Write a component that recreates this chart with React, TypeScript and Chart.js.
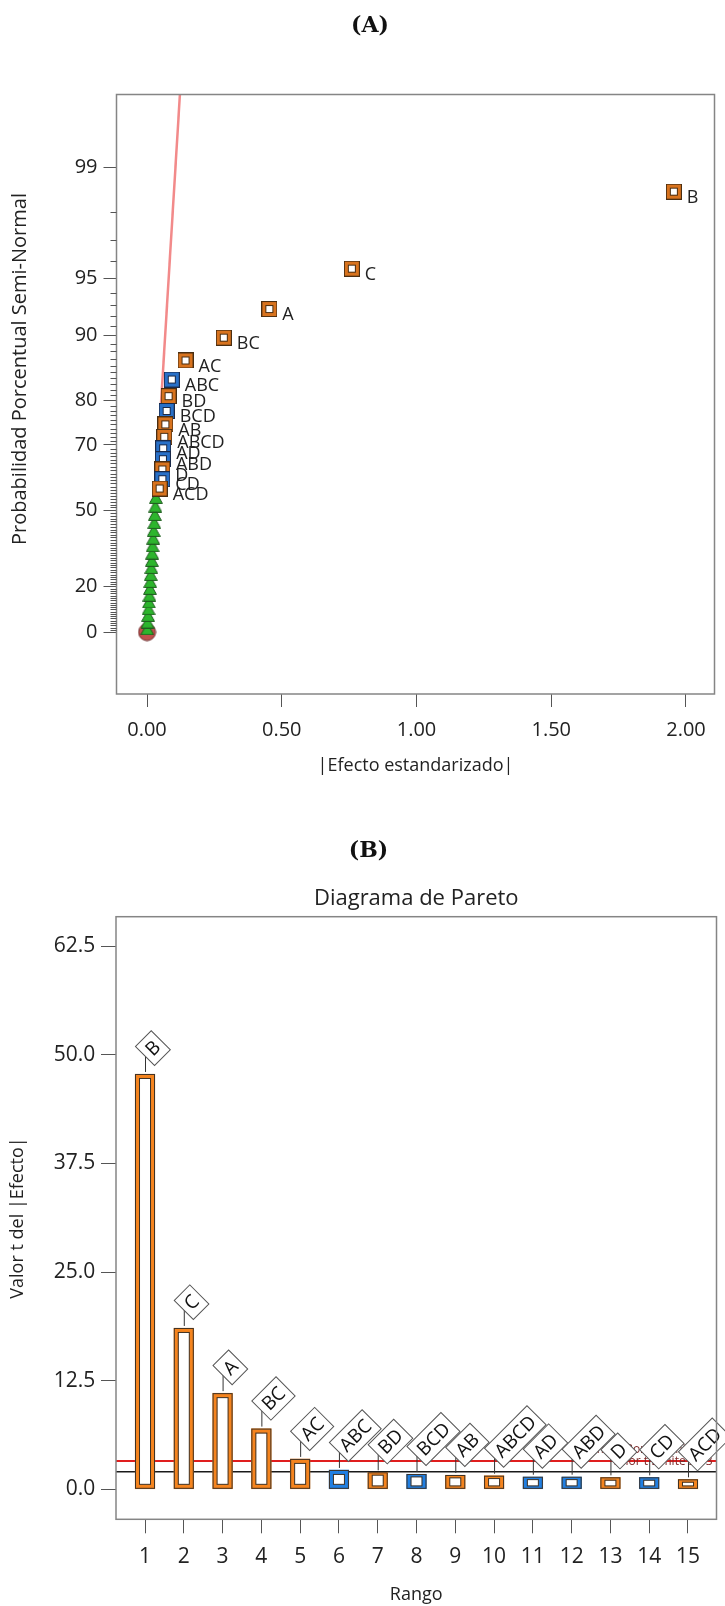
import React, { useEffect, useRef } from 'react';
import { Chart, registerables } from 'chart.js';

Chart.register(...registerables);

const FONT = '"Open Sans", "Noto Sans", sans-serif';

// ---------- Chart (A): half-normal plot ----------
const effectTerms = ['B', 'C', 'A', 'BC', 'AC', 'ABC', 'BD', 'BCD', 'AB', 'ABCD', 'AD', 'ABD', 'D', 'CD', 'ACD'];
const effectSizes = [1.955, 0.76, 0.454, 0.285, 0.143, 0.092, 0.08, 0.073, 0.068, 0.064, 0.06, 0.059, 0.057, 0.057, 0.047];
const effectProbs = [98.53, 95.59, 92.65, 89.71, 86.76, 83.82, 80.88, 77.94, 75.0, 72.06, 69.12, 66.18, 63.24, 60.29, 57.35];
const effectPositive = [true, true, true, true, true, false, true, false, true, true, false, false, true, false, true];
const errorSizes = [0.001, 0.002, 0.004, 0.006, 0.007, 0.009, 0.011, 0.012, 0.014, 0.016, 0.018, 0.019, 0.021, 0.023, 0.025, 0.027, 0.029, 0.031, 0.033];
const errorProbs = [1.47, 4.41, 7.35, 10.29, 13.24, 16.18, 19.12, 22.06, 25.0, 27.94, 30.88, 33.82, 36.76, 39.71, 42.65, 45.59, 48.53, 51.47, 54.41];
const originSizes = [0];
const originProbs = [0];
const refLineSizes = [0, 0.123];
const refLineProbs = [0, 99.73];
const probTickLabels = [0, 20, 50, 70, 80, 90, 95, 99];
const effectTickValues = [0, 0.5, 1.0, 1.5, 2.0];

// ---------- Chart (B): Pareto ----------
const paretoRanks = [1, 2, 3, 4, 5, 6, 7, 8, 9, 10, 11, 12, 13, 14, 15];
const paretoTerms = ['B', 'C', 'A', 'BC', 'AC', 'ABC', 'BD', 'BCD', 'AB', 'ABCD', 'AD', 'ABD', 'D', 'CD', 'ACD'];
const paretoTValues = [47.8, 18.57, 11.07, 6.99, 3.5, 2.23, 1.96, 1.76, 1.65, 1.57, 1.45, 1.45, 1.38, 1.38, 1.15];
const paretoPositive = [true, true, true, true, true, false, true, false, true, true, false, false, true, false, true];
const bonferroniLimit = 3.26;
const tValueLimit = 2.03;
const tTickValues = [0, 12.5, 25, 37.5, 50, 62.5];

// inverse standard normal CDF (Acklam)
function invNorm(p: number): number {
  const a = [-3.969683028665376e1, 2.209460984245205e2, -2.759285104469687e2, 1.38357751867269e2, -3.066479806614716e1, 2.506628277459239];
  const b = [-5.447609879822406e1, 1.615858368580409e2, -1.556989798598866e2, 6.680131188771972e1, -1.328068155288572e1];
  const c = [-7.784894002430293e-3, -3.223964580411365e-1, -2.400758277161838, -2.549732539343734, 4.374664141464968, 2.938163982698783];
  const d = [7.784695709041462e-3, 3.224671290700398e-1, 2.445134137142996, 3.754408661907416];
  const pl = 0.02425;
  if (p <= 0) return -Infinity;
  if (p >= 1) return Infinity;
  if (p < pl) {
    const q = Math.sqrt(-2 * Math.log(p));
    return (((((c[0] * q + c[1]) * q + c[2]) * q + c[3]) * q + c[4]) * q + c[5]) / ((((d[0] * q + d[1]) * q + d[2]) * q + d[3]) * q + 1);
  }
  if (p <= 1 - pl) {
    const q = p - 0.5;
    const r = q * q;
    return ((((((a[0] * r + a[1]) * r + a[2]) * r + a[3]) * r + a[4]) * r + a[5]) * q) / (((((b[0] * r + b[1]) * r + b[2]) * r + b[3]) * r + b[4]) * r + 1);
  }
  const q = Math.sqrt(-2 * Math.log(1 - p));
  return -(((((c[0] * q + c[1]) * q + c[2]) * q + c[3]) * q + c[4]) * q + c[5]) / ((((d[0] * q + d[1]) * q + d[2]) * q + d[3]) * q + 1);
}
const halfNormalZ = (pct: number) => invNorm(0.5 + pct / 200);

function squareMarker(fill: string, edge: string) {
  const c = document.createElement('canvas');
  c.width = 16;
  c.height = 16;
  const g = c.getContext('2d')!;
  g.fillStyle = edge;
  g.fillRect(0, 0, 16, 16);
  g.fillStyle = fill;
  g.fillRect(1, 1, 14, 14);
  g.fillStyle = edge;
  g.fillRect(4, 4, 8, 8);
  g.fillStyle = '#ffffff';
  g.fillRect(5, 5, 6, 6);
  return c;
}
function triangleMarker() {
  const c = document.createElement('canvas');
  c.width = 14;
  c.height = 13;
  const g = c.getContext('2d')!;
  g.beginPath();
  g.moveTo(7, 0.7);
  g.lineTo(13.4, 12.4);
  g.lineTo(0.6, 12.4);
  g.closePath();
  g.fillStyle = '#2DB52D';
  g.fill();
  g.strokeStyle = '#1C5A1C';
  g.lineWidth = 1;
  g.stroke();
  return c;
}
function circleMarker() {
  const c = document.createElement('canvas');
  c.width = 19;
  c.height = 19;
  const g = c.getContext('2d')!;
  g.beginPath();
  g.arc(9.5, 9.5, 8.5, 0, Math.PI * 2);
  g.fillStyle = '#C0504D';
  g.fill();
  g.strokeStyle = '#6B2B2B';
  g.lineWidth = 1;
  g.stroke();
  return c;
}

const framePlugin = {
  id: 'frame',
  afterDraw(chart: any) {
    const { ctx, chartArea: a } = chart;
    ctx.save();
    ctx.strokeStyle = '#858585';
    ctx.lineWidth = 1.5;
    ctx.strokeRect(a.left, a.top, a.right - a.left, a.bottom - a.top);
    ctx.restore();
  },
};

function makeChartA(canvas: HTMLCanvasElement) {
  const orange = squareMarker('#D8731E', '#4A2E12');
  const blue = squareMarker('#2870C8', '#1A2A4A');
  const tri = triangleMarker();
  const circ = circleMarker();

  const extrasPlugin = {
    id: 'halfNormalExtras',
    afterDatasetsDraw(chart: any) {
      const { ctx } = chart;
      const meta = chart.getDatasetMeta(0);
      ctx.save();
      ctx.font = `18px ${FONT}`;
      ctx.fillStyle = '#222';
      ctx.textAlign = 'left';
      ctx.textBaseline = 'middle';
      meta.data.forEach((pt: any, i: number) => {
        ctx.fillText(effectTerms[i], pt.x + 13, pt.y + 6);
      });
      ctx.restore();
    },
    afterDraw(chart: any) {
      const { ctx, chartArea: a } = chart;
      const ys = chart.scales.y;
      ctx.save();
      ctx.strokeStyle = '#555';
      ctx.lineWidth = 1;
      for (let p = 1; p <= 98; p++) {
        if (probTickLabels.includes(p)) continue;
        const y = Math.round(ys.getPixelForValue(halfNormalZ(p))) + 0.5;
        ctx.beginPath();
        ctx.moveTo(a.left - 6, y);
        ctx.lineTo(a.left, y);
        ctx.stroke();
      }
      ctx.translate(20, 369);
      ctx.rotate(-Math.PI / 2);
      ctx.font = `20px ${FONT}`;
      ctx.fillStyle = '#222';
      ctx.textAlign = 'center';
      ctx.textBaseline = 'middle';
      ctx.fillText('Probabilidad Porcentual Semi-Normal', 0, 0);
      ctx.restore();
    },
  };

  return new Chart(canvas, {
    type: 'scatter',
    data: {
      datasets: [
        {
          label: 'Efectos',
          data: effectSizes.map((v, i) => ({ x: v, y: halfNormalZ(effectProbs[i]) })),
          pointStyle: effectPositive.map((p) => (p ? orange : blue)) as any,
          pointRadius: 8,
          order: 0,
        },
        {
          label: 'Error',
          data: errorSizes.map((v, i) => ({ x: v, y: halfNormalZ(errorProbs[i]) })),
          pointStyle: tri as any,
          pointRadius: 6,
          order: 1,
        },
        {
          label: 'Origen',
          data: originSizes.map((v, i) => ({ x: v, y: halfNormalZ(originProbs[i]) })),
          pointStyle: circ as any,
          pointRadius: 8,
          order: 2,
        },
        {
          type: 'line',
          label: 'Referencia',
          data: refLineSizes.map((v, i) => ({ x: v, y: halfNormalZ(refLineProbs[i]) })),
          borderColor: '#F28A8A',
          borderWidth: 2.5,
          pointRadius: 0,
          showLine: true,
          clip: 0,
          order: 3,
        } as any,
      ],
    },
    options: {
      responsive: false,
      animation: false,
      devicePixelRatio: 1,
      layout: { padding: { top: 94.5, right: 10.5, left: 0, bottom: 0 } },
      plugins: { legend: { display: false }, tooltip: { enabled: false } },
      scales: {
        x: {
          type: 'linear',
          min: -0.1132,
          max: 2.1058,
          afterBuildTicks: (s: any) => {
            s.ticks = effectTickValues.map((v) => ({ value: v }));
          },
          afterFit: (s: any) => {
            s.height = 96;
          },
          ticks: {
            autoSkip: false,
            maxRotation: 0,
            padding: 11,
            color: '#222',
            font: { family: FONT, size: 20 },
            callback: (v: any) => Number(v).toFixed(2),
          },
          grid: { drawOnChartArea: false, tickLength: 13, tickColor: '#555', tickWidth: 1 },
          border: { display: false },
          title: {
            display: true,
            text: '|Efecto estandarizado|',
            color: '#222',
            font: { family: FONT, size: 18 },
            padding: { top: 0, bottom: 13 },
          },
        },
        y: {
          type: 'linear',
          min: -0.343,
          max: 2.978,
          afterBuildTicks: (s: any) => {
            s.ticks = probTickLabels.map((p) => ({ value: halfNormalZ(p) }));
          },
          afterFit: (s: any) => {
            s.width = 116.5;
          },
          ticks: {
            autoSkip: false,
            padding: 6,
            color: '#222',
            font: { family: FONT, size: 20 },
            callback: (_v: any, i: number) => String(probTickLabels[i]),
          },
          grid: { drawOnChartArea: false, tickLength: 13, tickColor: '#555', tickWidth: 1 },
          border: { display: false },
          title: { display: false },
        },
      },
    },
    plugins: [framePlugin, extrasPlugin],
  } as any);
}

function makeChartB(canvas: HTMLCanvasElement) {
  const ORANGE = '#F5841E';
  const BLUE = '#1F7FE3';
  const vBand = (v: number) => (v >= 2.1 ? 5 : 3.4);

  const labelPlugin = {
    id: 'paretoLabels',
    afterDatasetsDraw(chart: any) {
      const { ctx, chartArea: a } = chart;
      const meta = chart.getDatasetMeta(0);
      ctx.save();
      // thin dark outlines on bars
      ctx.strokeStyle = '#3E3226';
      ctx.lineWidth = 1;
      meta.data.forEach((bar: any, i: number) => {
        const { x, y, base, width } = bar.getProps(['x', 'y', 'base', 'width'], true);
        const vb = vBand(paretoTValues[i]);
        const l = x - width / 2;
        ctx.strokeRect(l + 0.5, y + 0.5, width - 1, base - y - 1);
        ctx.strokeRect(l + 5 - 0.5, y + vb - 0.5, width - 10 + 1, base - y - 2 * vb + 1);
      });
      // limit captions
      const ys = chart.scales.y;
      ctx.font = `12px ${FONT}`;
      ctx.fillStyle = '#7E2B2B';
      ctx.textAlign = 'right';
      ctx.textBaseline = 'middle';
      ctx.fillText('Límite Bonferroni 3.26', a.right - 4, ys.getPixelForValue(bonferroniLimit) - 11);
      ctx.fillText('Valor t Límite 2.03', a.right - 4, ys.getPixelForValue(bonferroniLimit) + 1);
      // rotated labels
      ctx.font = `19px ${FONT}`;
      meta.data.forEach((bar: any, i: number) => {
        const x = bar.x;
        const top = bar.y;
        const ay = top - 18;
        ctx.strokeStyle = '#333';
        ctx.lineWidth = 1;
        ctx.beginPath();
        ctx.moveTo(x + 0.5, top - 2);
        ctx.lineTo(x + 0.5, ay);
        ctx.stroke();
        const text = paretoTerms[i];
        const tw = ctx.measureText(text).width;
        const L = tw + 10;
        const H = 27;
        ctx.save();
        ctx.translate(x, ay);
        ctx.rotate(-Math.PI / 4);
        ctx.fillStyle = '#ffffff';
        ctx.fillRect(0, -H / 2, L, H);
        ctx.strokeStyle = '#555';
        ctx.strokeRect(0, -H / 2, L, H);
        ctx.fillStyle = '#111';
        ctx.textAlign = 'center';
        ctx.textBaseline = 'middle';
        ctx.fillText(text, L / 2, 1);
        ctx.restore();
      });
      ctx.restore();
    },
  };

  const xMin = 0.252;
  const xMax = 15.735;

  return new Chart(canvas, {
    type: 'bar',
    data: {
      datasets: [
        {
          type: 'bar',
          label: 'Valor t',
          data: paretoRanks.map((r, i) => ({ x: r, y: paretoTValues[i] })),
          backgroundColor: '#ffffff',
          borderColor: paretoPositive.map((p) => (p ? ORANGE : BLUE)),
          borderWidth: (c: any) => {
            const vb = vBand(paretoTValues[c.dataIndex] ?? 10);
            return { left: 5, right: 5, top: vb, bottom: vb };
          },
          borderSkipped: false,
          barThickness: 20,
          grouped: false,
          order: 1,
        } as any,
        {
          type: 'line',
          label: 'Límite Bonferroni',
          data: [{ x: xMin, y: bonferroniLimit }, { x: xMax, y: bonferroniLimit }],
          borderColor: '#E01E1E',
          borderWidth: 2,
          pointRadius: 0,
          clip: 0,
          order: 2,
        } as any,
        {
          type: 'line',
          label: 'Límite t',
          data: [{ x: xMin, y: tValueLimit }, { x: xMax, y: tValueLimit }],
          borderColor: '#1A1A1A',
          borderWidth: 1.5,
          pointRadius: 0,
          clip: 0,
          order: 3,
        } as any,
      ],
    },
    options: {
      responsive: false,
      animation: false,
      devicePixelRatio: 1,
      layout: { padding: { top: 0, right: 8.5, left: 0, bottom: 0 } },
      plugins: {
        legend: { display: false },
        tooltip: { enabled: false },
        title: {
          display: true,
          text: 'Diagrama de Pareto',
          fullSize: false,
          color: '#222',
          font: { family: FONT, size: 22, weight: 'normal' },
          padding: { top: 85.8, bottom: 4.5 },
        },
      },
      scales: {
        x: {
          type: 'linear',
          min: xMin,
          max: xMax,
          offset: false,
          afterBuildTicks: (s: any) => {
            s.ticks = paretoRanks.map((v) => ({ value: v }));
          },
          afterFit: (s: any) => {
            s.height = 86.7;
          },
          ticks: {
            autoSkip: false,
            maxRotation: 0,
            padding: 11,
            color: '#222',
            font: { family: FONT, size: 21 },
            callback: (v: any) => String(v),
          },
          grid: { drawOnChartArea: false, offset: false, tickLength: 14, tickColor: '#555', tickWidth: 1 },
          border: { display: false },
          title: {
            display: true,
            text: 'Rango',
            color: '#222',
            font: { family: FONT, size: 18 },
            padding: { top: 0, bottom: 0.2 },
          },
        },
        y: {
          type: 'linear',
          min: -3.45,
          max: 65.9,
          afterBuildTicks: (s: any) => {
            s.ticks = tTickValues.map((v) => ({ value: v }));
          },
          afterFit: (s: any) => {
            s.width = 116;
          },
          ticks: {
            autoSkip: false,
            padding: 5.7,
            color: '#222',
            font: { family: FONT, size: 21 },
            callback: (v: any) => Number(v).toFixed(1),
          },
          grid: { drawOnChartArea: false, tickLength: 15, tickColor: '#555', tickWidth: 1 },
          border: { display: false },
          title: {
            display: true,
            text: 'Valor t del |Efecto|',
            color: '#222',
            font: { family: FONT, size: 18 },
            padding: { top: 6.9, bottom: 0 },
          },
        },
      },
    },
    plugins: [framePlugin, labelPlugin],
  } as any);
}

export default function App() {
  const refA = useRef<HTMLCanvasElement>(null);
  const refB = useRef<HTMLCanvasElement>(null);
  useEffect(() => {
    const a = makeChartA(refA.current!);
    const b = makeChartB(refB.current!);
    return () => {
      a.destroy();
      b.destroy();
    };
  }, []);
  const heading: React.CSSProperties = {
    position: 'absolute',
    left: 0,
    width: 740,
    textAlign: 'center',
    fontFamily: '"DejaVu Serif", serif',
    fontWeight: 'bold',
    fontSize: 22,
    lineHeight: '28px',
    color: '#111',
  };
  return (
    <div style={{ position: 'absolute', left: 0, top: 0, width: 725, height: 1606, background: '#ffffff', overflow: 'hidden' }}>
      <canvas ref={refA} width={725} height={790} style={{ position: 'absolute', left: 0, top: 0 }} />
      <canvas ref={refB} width={725} height={806} style={{ position: 'absolute', left: 0, top: 800 }} />
      <div style={{ ...heading, top: 10 }}>(A)</div>
      <div style={{ ...heading, top: 835, width: 737 }}>(B)</div>
    </div>
  );
}
